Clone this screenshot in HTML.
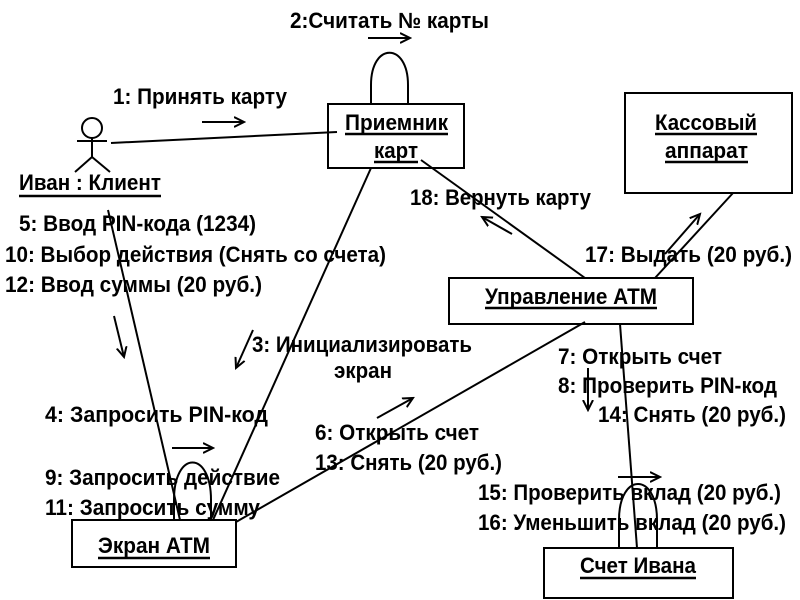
<!DOCTYPE html>
<html><head><meta charset="utf-8"><style>
html,body{margin:0;padding:0;background:#fff;}
svg{display:block;}
text{font-family:"Liberation Sans Narrow","Liberation Sans","DejaVu Sans",sans-serif;font-weight:bold;font-size:22px;fill:#000;}
</style></head><body>
<svg width="800" height="600" viewBox="0 0 800 600" xmlns="http://www.w3.org/2000/svg">
<defs>
<marker id="a" markerWidth="12" markerHeight="12" refX="10" refY="6" orient="auto" markerUnits="userSpaceOnUse">
<path d="M0,1 L10,6 L0,11" fill="none" stroke="#000" stroke-width="2"/>
</marker>
</defs>
<g fill="none" stroke="#000" stroke-width="2">
<rect x="328" y="104" width="136" height="64"/>
<rect x="625" y="93" width="167" height="100"/>
<rect x="449" y="278" width="244" height="46"/>
<rect x="72" y="520" width="164" height="47"/>
<rect x="544" y="548" width="189" height="50"/>
<circle cx="92" cy="128" r="10"/>
<line x1="92" y1="138" x2="92" y2="157"/>
<line x1="77" y1="141" x2="107" y2="141"/>
<line x1="92" y1="157" x2="75" y2="172"/>
<line x1="92" y1="157" x2="110" y2="172"/>
<line x1="111" y1="143" x2="337" y2="132"/>
<line x1="108" y1="210" x2="180" y2="520"/>
<line x1="371" y1="168" x2="213" y2="520"/>
<line x1="421" y1="160" x2="585" y2="278"/>
<line x1="733" y1="193" x2="655" y2="278"/>
<line x1="236" y1="522" x2="585" y2="322"/>
<line x1="620" y1="324" x2="637" y2="548"/>
<path d="M371,104 L371,85 C371,42 408,42 408,85 L408,104"/>
<path d="M174,520 L174,500 C174,450 211,450 211,500 L211,520"/>
<path d="M619,548 L619,520 C619,472 657,472 657,520 L657,548"/>
<line x1="368" y1="38" x2="410" y2="38" marker-end="url(#a)"/>
<line x1="202" y1="122" x2="244" y2="122" marker-end="url(#a)"/>
<line x1="512" y1="234" x2="482" y2="217" marker-end="url(#a)"/>
<line x1="665" y1="254" x2="700" y2="214" marker-end="url(#a)"/>
<line x1="114" y1="316" x2="124" y2="357" marker-end="url(#a)"/>
<line x1="253" y1="330" x2="236" y2="368" marker-end="url(#a)"/>
<line x1="172" y1="448" x2="213" y2="448" marker-end="url(#a)"/>
<line x1="377" y1="418" x2="413" y2="398" marker-end="url(#a)"/>
<line x1="588" y1="368" x2="588" y2="410" marker-end="url(#a)"/>
<line x1="618" y1="477" x2="660" y2="477" marker-end="url(#a)"/>
</g>
<g stroke="#000" stroke-width="2.5">
<line x1="19" y1="196" x2="161" y2="196"/>
<line x1="345" y1="134" x2="448" y2="134"/>
<line x1="374" y1="162" x2="418" y2="162"/>
<line x1="655" y1="134" x2="757" y2="134"/>
<line x1="665" y1="162" x2="748" y2="162"/>
<line x1="485" y1="308" x2="657" y2="308"/>
<line x1="98" y1="558" x2="210" y2="558"/>
<line x1="580" y1="578" x2="696" y2="578"/>
</g>
<text x="290" y="28" textLength="199" lengthAdjust="spacingAndGlyphs">2:Считать № карты</text>
<text x="113" y="104" textLength="174" lengthAdjust="spacingAndGlyphs">1: Принять карту</text>
<text x="19" y="190" textLength="142" lengthAdjust="spacingAndGlyphs">Иван : Клиент</text>
<text x="345" y="130" textLength="103" lengthAdjust="spacingAndGlyphs">Приемник</text>
<text x="374" y="158" textLength="44" lengthAdjust="spacingAndGlyphs">карт</text>
<text x="655" y="130" textLength="102" lengthAdjust="spacingAndGlyphs">Кассовый</text>
<text x="665" y="158" textLength="83" lengthAdjust="spacingAndGlyphs">аппарат</text>
<text x="410" y="205" textLength="181" lengthAdjust="spacingAndGlyphs">18: Вернуть карту</text>
<text x="19" y="231" textLength="237" lengthAdjust="spacingAndGlyphs">5: Ввод PIN-кода (1234)</text>
<text x="5" y="262" textLength="381" lengthAdjust="spacingAndGlyphs">10: Выбор действия (Снять со счета)</text>
<text x="5" y="292" textLength="257" lengthAdjust="spacingAndGlyphs">12: Ввод суммы (20 руб.)</text>
<text x="585" y="262" textLength="207" lengthAdjust="spacingAndGlyphs">17: Выдать (20 руб.)</text>
<text x="485" y="304" textLength="172" lengthAdjust="spacingAndGlyphs">Управление АТМ</text>
<text x="252" y="352" textLength="220" lengthAdjust="spacingAndGlyphs">3: Инициализировать</text>
<text x="334" y="378" textLength="58" lengthAdjust="spacingAndGlyphs">экран</text>
<text x="558" y="364" textLength="164" lengthAdjust="spacingAndGlyphs">7: Открыть счет</text>
<text x="558" y="393" textLength="219" lengthAdjust="spacingAndGlyphs">8: Проверить PIN-код</text>
<text x="598" y="422" textLength="188" lengthAdjust="spacingAndGlyphs">14: Снять (20 руб.)</text>
<text x="45" y="422" textLength="223" lengthAdjust="spacingAndGlyphs">4: Запросить  PIN-код</text>
<text x="315" y="440" textLength="164" lengthAdjust="spacingAndGlyphs">6: Открыть счет</text>
<text x="315" y="470" textLength="187" lengthAdjust="spacingAndGlyphs">13: Снять (20 руб.)</text>
<text x="45" y="485" textLength="235" lengthAdjust="spacingAndGlyphs">9: Запросить действие</text>
<text x="45" y="515" textLength="215" lengthAdjust="spacingAndGlyphs">11: Запросить сумму</text>
<text x="478" y="500" textLength="303" lengthAdjust="spacingAndGlyphs">15: Проверить вклад (20 руб.)</text>
<text x="478" y="530" textLength="308" lengthAdjust="spacingAndGlyphs">16: Уменьшить вклад (20 руб.)</text>
<text x="98" y="553" textLength="112" lengthAdjust="spacingAndGlyphs">Экран АТМ</text>
<text x="580" y="573" textLength="116" lengthAdjust="spacingAndGlyphs">Счет Ивана</text>
</svg>
</body></html>
